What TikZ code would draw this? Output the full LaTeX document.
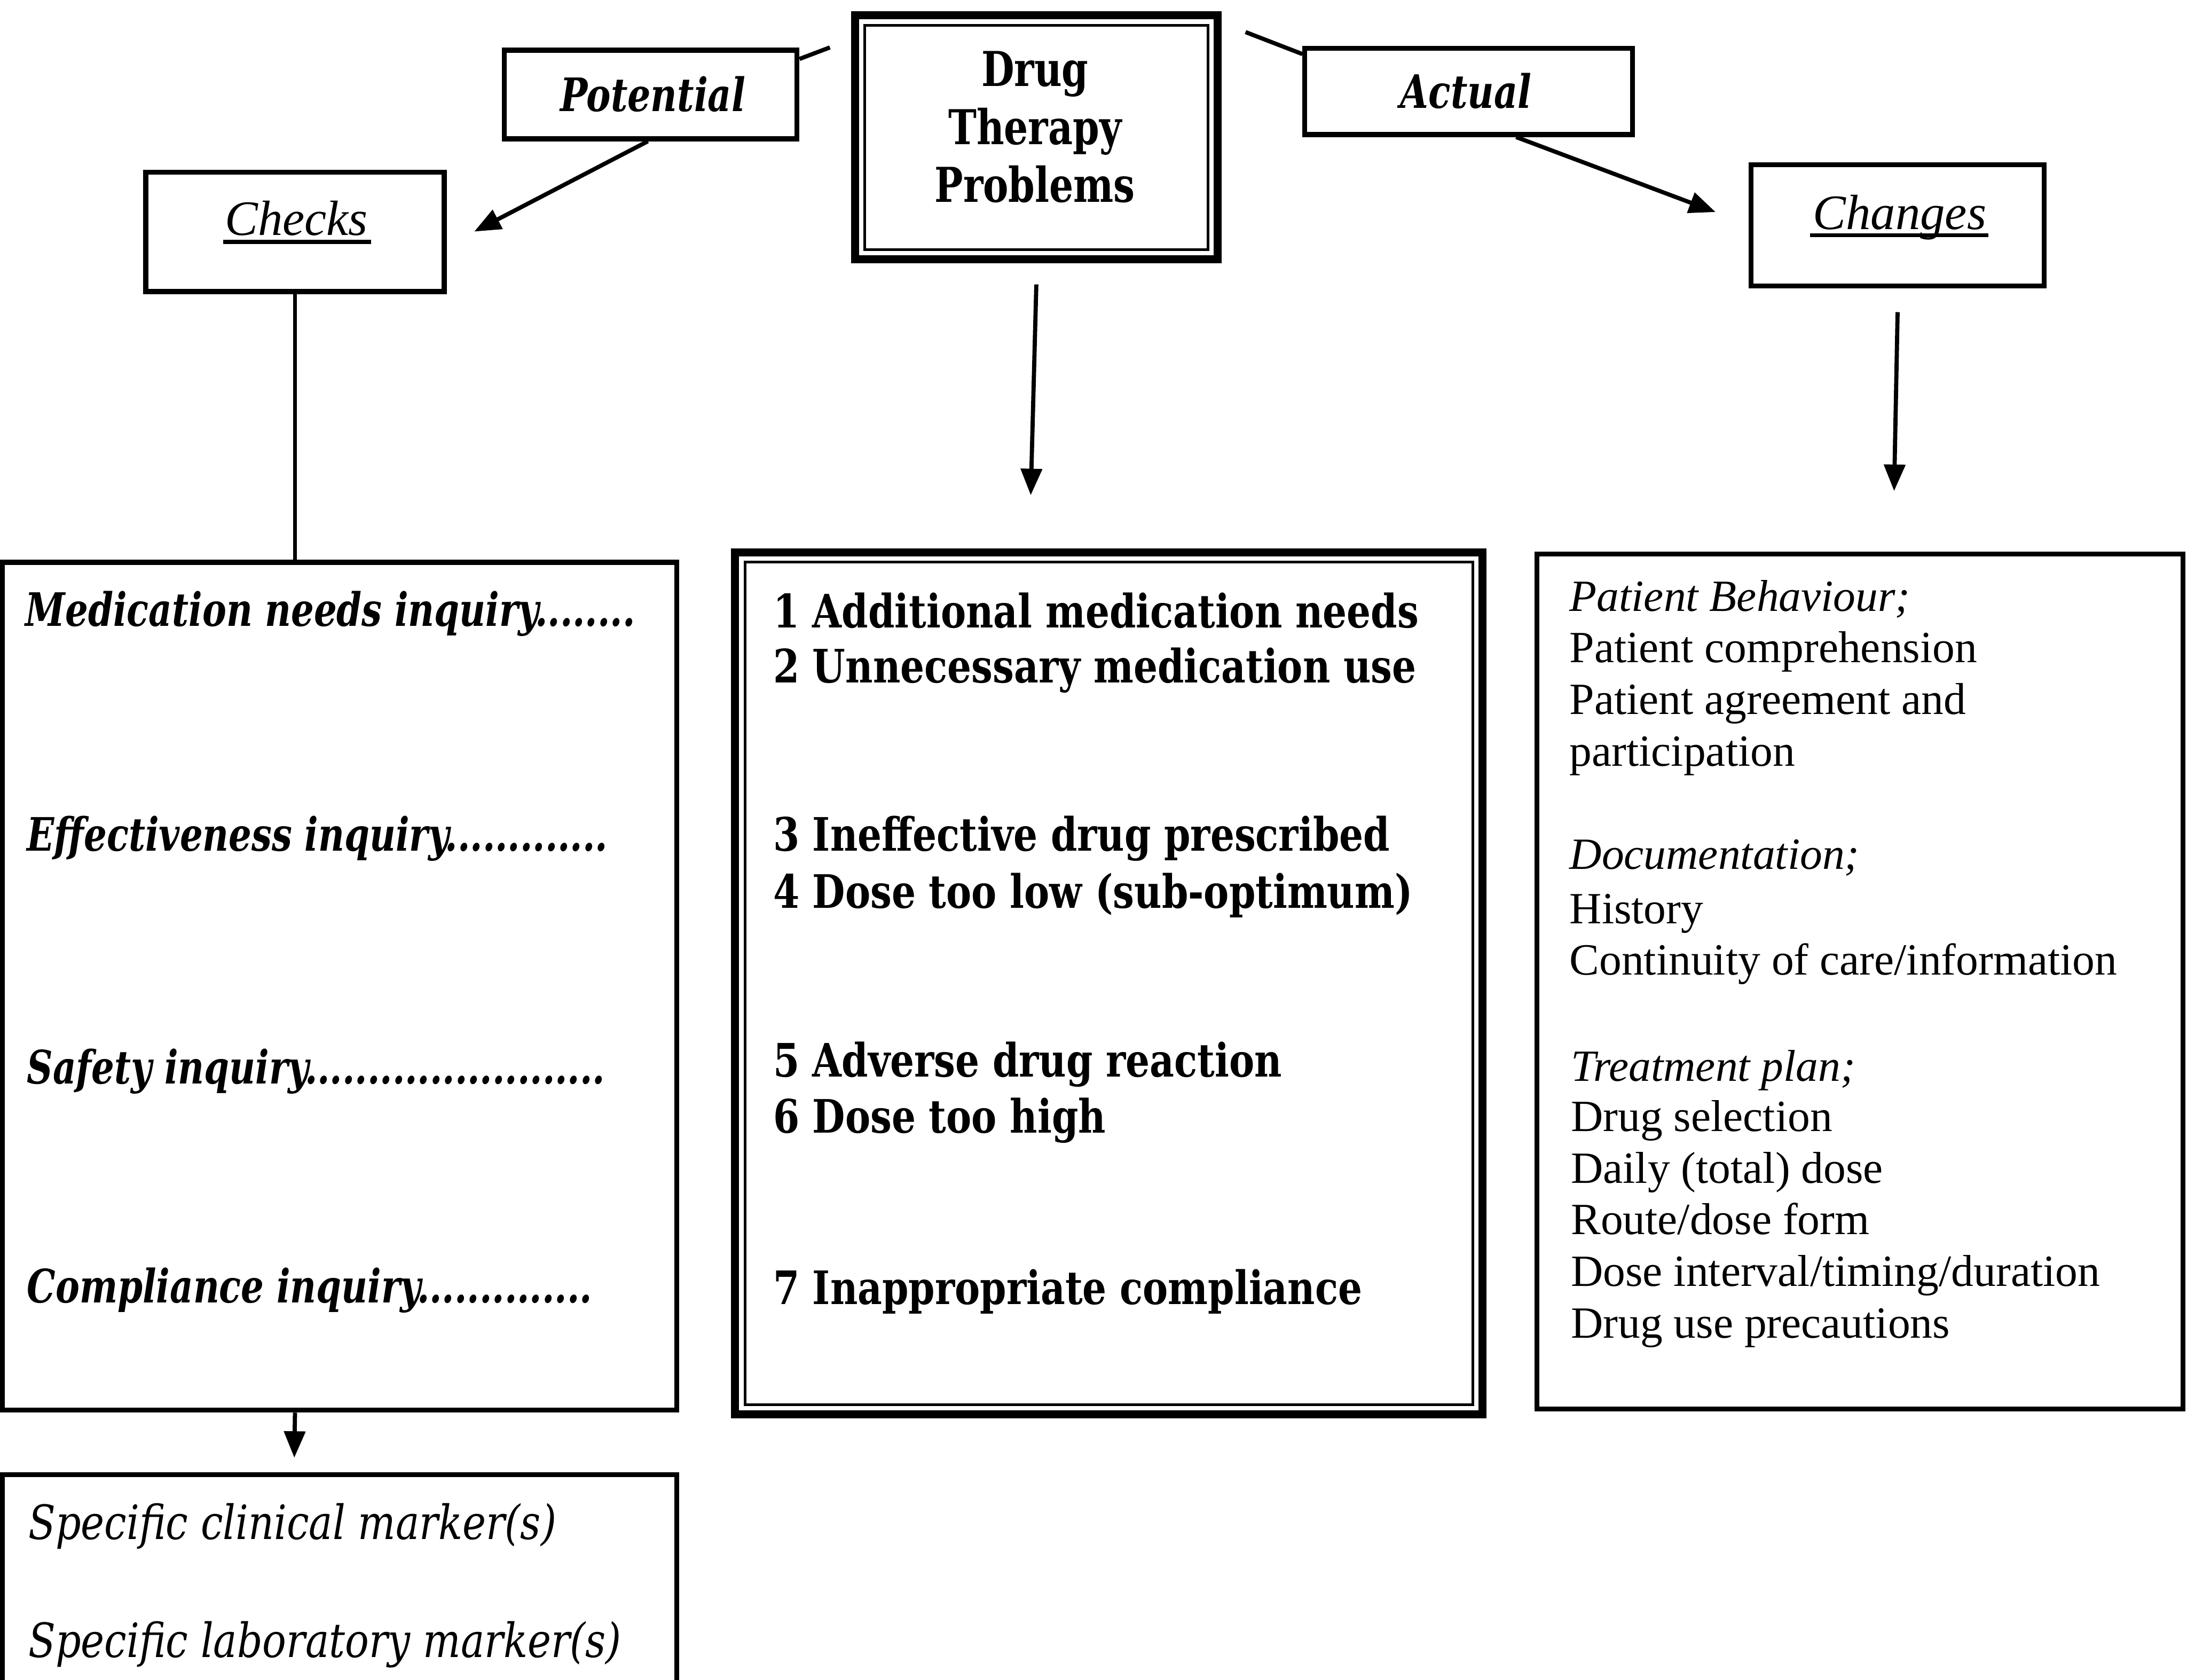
\documentclass[tikz,border=0pt]{standalone}
\usepackage{fontspec}
\setmainfont{Liberation Serif}
\newfontfamily\ctrfont[FakeStretch=0.82]{DejaVu Serif}
\newfontfamily\ttlfont[FakeStretch=0.79]{DejaVu Serif}
\newfontfamily\inqfont[FakeStretch=0.78]{DejaVu Serif}
\newfontfamily\mrkfont[FakeStretch=0.84]{DejaVu Serif}
\usetikzlibrary{arrows.meta,calc}
\begin{document}
\begin{tikzpicture}[x=0.02cm, y=-0.02cm,
  box/.style={draw, line width=2pt, rectangle, inner sep=0pt},
  heavybox/.style={draw, line width=3.3pt, rectangle, inner sep=0pt},
  thinbox/.style={draw, line width=1.1pt, rectangle, inner sep=0pt},
  link/.style={line width=1.7pt},
  arr/.style={line width=1.7pt, -{Triangle[length=0.38cm,width=0.3cm]}},
  txt/.style={inner sep=0pt, anchor=base west},
  probtxt/.style={txt, font=\ctrfont\bfseries\fontsize{18.8}{22}\selectfont},
  titletxt/.style={inner sep=0pt, anchor=base, font=\ttlfont\bfseries\fontsize{19.6}{23}\selectfont},
  kindtxt/.style={inner sep=0pt, anchor=base, font=\ttlfont\bfseries\itshape\fontsize{18.8}{22}\selectfont},
  headtxt/.style={inner sep=0pt, anchor=base, font=\itshape\fontsize{20.2}{24}\selectfont},
  inqtxt/.style={txt, font=\inqfont\bfseries\itshape\fontsize{18.8}{22}\selectfont},
  mrktxt/.style={txt, font=\mrkfont\itshape\fontsize{19.3}{23}\selectfont},
  chgtxt/.style={txt, font=\fontsize{18.2}{21}\selectfont},
]
\useasboundingbox (0,0) rectangle (1568,1204);
\clip (0,0) rectangle (1568,1204);

% --- top row ---
\node[heavybox, minimum width=5.2cm, minimum height=3.5cm] (drug) at (743,98.5) {};
\node[thinbox, minimum width=4.92cm, minimum height=3.22cm] (drugin) at (drug.center) {};
\node[titletxt] (dt1) at (742,62) {Drug};
\node[titletxt] (dt2) at (742,103.5) {Therapy};
\node[titletxt] (dt3) at (742,145) {Problems};

\node[box, minimum width=4.2cm, minimum height=1.27cm] (pot) at (466.5,67.75) {};
\node[kindtxt] (pott) at (468,80) {Potential};
\node[box, minimum width=4.7cm, minimum height=1.24cm] (act) at (1053,65.5) {};
\node[kindtxt] (actt) at (1051,77.5) {Actual};

\node[box, minimum width=4.28cm, minimum height=1.71cm] (chk) at (211.5,166.25) {};
\node[headtxt] (chkt) at (212.5,168.5) {Checks};
\node[box, minimum width=4.2cm, minimum height=1.74cm] (chg) at (1360.5,161.5) {};
\node[headtxt] (chgt) at (1362,164.6) {Changes};
\draw[line width=1.7pt] ($(chkt.base west)+(-1,5)$) -- ($(chkt.base east)+(2,5)$);
\draw[line width=1.7pt] ($(chgt.base west)+(-2,4)$) -- ($(chgt.base east)+(1,4)$);

% --- connectors of the top row ---
\coordinate (potend) at (595,34);
\coordinate (actend) at (893,23);
\draw[link] ($(pot.north east)+(0,8)$) -- (potend);
\draw[link] (actend) -- ($(act.north west)+(0,6)$);
\coordinate (chkin) at (340,166);
\coordinate (chgin) at (1230,152);
\draw[arr] ($(pot.south)+(-2,0)$) -- (chkin);
\draw[arr] ($(act.south)+(34,0)$) -- (chgin);

% --- main boxes ---
\node[box, minimum width=9.67cm, minimum height=12.16cm] (lft) at (243.5,707) {};
\node[heavybox, minimum width=10.72cm, minimum height=12.36cm] (ctr) at (795,705) {};
\node[thinbox, minimum width=10.44cm, minimum height=12.08cm] (ctrin) at (ctr.center) {};
\node[box, minimum width=9.26cm, minimum height=12.26cm] (rgt) at (1333.5,703.5) {};
\node[box, minimum width=9.67cm, minimum height=3.46cm] (bot) at (243.5,1143.5) {};

\draw[link] (chk.south) -- (chk.south |- lft.north);
\coordinate (ctrtip) at (739,355);
\draw[arr] ($(drug.south)+(0,15)$) -- (ctrtip);
\coordinate (rgttip) at (1358,352);
\draw[arr] ($(chg.south)+(0,17)$) -- (rgttip);
\coordinate (bottip) at (211,1045);
\draw[arr] (lft.south -| chk.south) -- (bottip);

% --- checks (left) ---
\node[inqtxt] (q1) at (18,449) {Medication needs inquiry........};
\node[inqtxt] (q2) at (19,610) {Effectiveness inquiry.............};
\node[inqtxt] (q3) at (19,777) {Safety inquiry........................};
\node[inqtxt] (q4) at (19,934) {Compliance inquiry..............};

% --- problems (centre) ---
\node[probtxt] (p1) at (554,450) {1 Additional medication needs};
\node[probtxt] (p2) at (554,489.5) {2 Unnecessary medication use};
\node[probtxt] (p3) at (554,610) {3 Ineffective drug prescribed};
\node[probtxt] (p4) at (554,651) {4 Dose too low (sub-optimum)};
\node[probtxt] (p5) at (554,772) {5 Adverse drug reaction};
\node[probtxt] (p6) at (554,812) {6 Dose too high};
\node[probtxt] (p7) at (554,935) {7 Inappropriate compliance};

% --- changes (right) ---
\node[chgtxt] (c1) at (1125,438) {\textit{Patient Behaviour;}};
\node[chgtxt] (c2) at (1125,475) {Patient comprehension};
\node[chgtxt] (c3) at (1125,512) {Patient agreement and};
\node[chgtxt] (c4) at (1125,549) {participation};
\node[chgtxt] (c5) at (1125,623) {\textit{Documentation;}};
\node[chgtxt] (c6) at (1125,662) {History};
\node[chgtxt] (c7) at (1125,699) {Continuity of care/information};
\node[chgtxt] (c8) at (1126,775) {\textit{Treatment plan;}};
\node[chgtxt] (c9) at (1126,811) {Drug selection};
\node[chgtxt] (c10) at (1126,848) {Daily (total) dose};
\node[chgtxt] (c11) at (1126,885) {Route/dose form};
\node[chgtxt] (c12) at (1126,922) {Dose interval/timing/duration};
\node[chgtxt] (c13) at (1126,959) {Drug use precautions};

% --- markers (bottom left) ---
\node[mrktxt] (m1) at (20,1103.5) {Specific clinical marker(s)};
\node[mrktxt] (m2) at (20,1188) {Specific laboratory marker(s)};
\end{tikzpicture}
\end{document}
